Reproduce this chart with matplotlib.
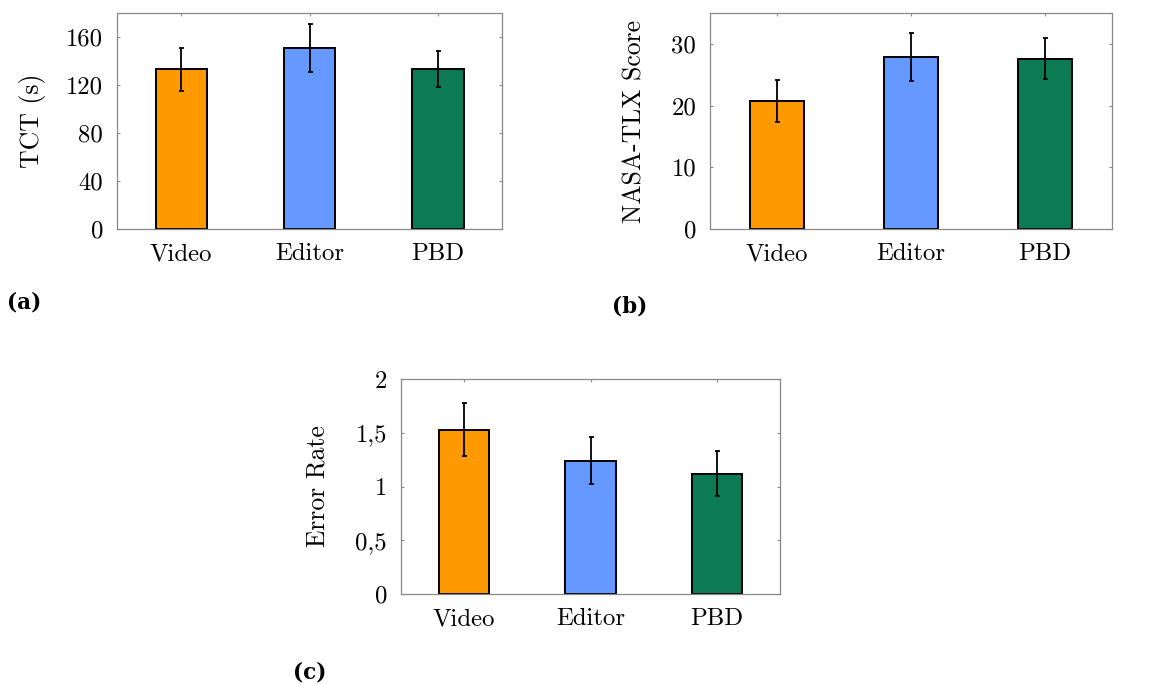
import matplotlib
matplotlib.use("Agg")
import matplotlib.pyplot as plt
import numpy as np

plt.rcParams['font.family'] = 'serif'
plt.rcParams['font.serif'] = ['cmr10']
plt.rcParams['axes.unicode_minus'] = False

categories = ["Video", "Editor", "PBD"]
colors = ["#FF9900", "#6699FF", "#0C7A55"]

tct_mean = [133, 151, 133]
tct_err = [18, 20, 15]
tct_ticks = [0, 40, 80, 120, 160]

tlx_mean = [20.7, 27.9, 27.6]
tlx_err = [3.4, 3.85, 3.35]
tlx_ticks = [0, 10, 20, 30]

err_mean = [1.53, 1.24, 1.12]
err_err = [0.25, 0.22, 0.21]
err_ticks = [0, 0.5, 1, 1.5, 2]
err_ticklabels = ["0", "0,5", "1", "1,5", "2"]

W, H = 1173, 684
fig = plt.figure(figsize=(W / 100, H / 100), dpi=100)

def rect(l, r, t, b):
    return [l / W, 1 - b / H, (r - l) / W, (b - t) / H]

ax_a = fig.add_axes(rect(117, 502, 13, 229))
ax_b = fig.add_axes(rect(710, 1112, 13, 229))
ax_c = fig.add_axes(rect(401, 780, 379, 594))

FS = 17.8

def draw(ax, means, errs, ylim, ticks, ticklabels, ylabel, labelx):
    x = np.arange(len(categories))
    ax.bar(x, means, width=0.4, color=colors, edgecolor="black", linewidth=1.4, zorder=2)
    ax.errorbar(x, means, yerr=errs, fmt="none", ecolor="black", elinewidth=1.3,
                capsize=1.8, capthick=1.3, zorder=3)
    ax.set_xlim(-0.5, 2.5)
    ax.set_ylim(*ylim)
    ax.set_xticks(x)
    ax.set_xticklabels(categories, fontsize=FS)
    ax.set_yticks(ticks)
    ax.set_yticklabels(ticklabels, fontsize=FS)
    for s in ax.spines.values():
        s.set_color("#888888")
        s.set_linewidth(0.9)
    ax.tick_params(axis="x", bottom=False, top=True, direction="in", length=2.5,
                   color="#888888", pad=10)
    ax.tick_params(axis="y", left=True, right=True, direction="in", length=2.5,
                   color="#888888", pad=10)
    ax.set_ylabel(ylabel, fontsize=18.5, va="center")
    ax.yaxis.set_label_coords(labelx, 0.5)

draw(ax_a, tct_mean, tct_err, (0, 180), tct_ticks, [str(t) for t in tct_ticks],
     "TCT (s)", -0.22)
draw(ax_b, tlx_mean, tlx_err, (0, 35), tlx_ticks, [str(t) for t in tlx_ticks],
     "NASA-TLX Score", -0.187)
draw(ax_c, err_mean, err_err, (0, 2), err_ticks, err_ticklabels,
     "Error Rate", -0.221)

lab_kw = dict(fontsize=15.5, fontweight="bold", family="DejaVu Serif", va="center", ha="left")
fig.text(7 / W, 1 - 303 / H, "(a)", **lab_kw)
fig.text(612 / W, 1 - 306 / H, "(b)", **lab_kw)
fig.text(293 / W, 1 - 672 / H, "(c)", **lab_kw)

fig.savefig("out.png", dpi=100)
